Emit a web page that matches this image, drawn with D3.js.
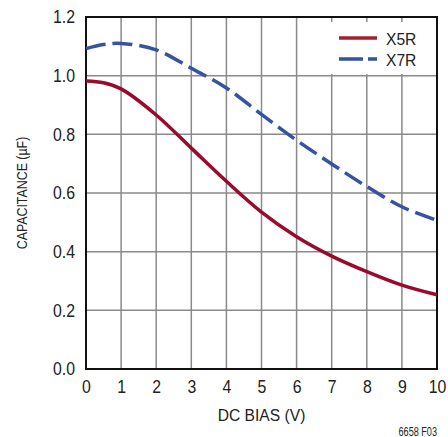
<!DOCTYPE html>
<html>
<head>
<meta charset="utf-8">
<script src="https://cdn.jsdelivr.net/npm/d3@7"></script>
<style>
  body { margin: 0; background: #fff; }
  svg text { font-family: "Liberation Sans", Arial, sans-serif; fill: #222; }
</style>
</head>
<body>
<svg id="chart" width="448" height="437"></svg>
<script>
// DC bias (V)
var bias = [0, 0.5, 1, 2, 3, 4, 5, 6, 7, 8, 9, 10];
// capacitance (uF)
var x5r = [0.982, 0.976, 0.955, 0.866, 0.753, 0.64, 0.535, 0.451, 0.385, 0.332, 0.286, 0.253];
var x7r = [1.092, 1.106, 1.11, 1.088, 1.025, 0.958, 0.868, 0.78, 0.699, 0.622, 0.553, 0.507];
var xTicks = [0, 1, 2, 3, 4, 5, 6, 7, 8, 9, 10];
var yTicks = [0, 0.2, 0.4, 0.6, 0.8, 1.0, 1.2];
var seriesNames = ['X5R', 'X7R'];

(function() {
  var mLeft = 86, mTop = 17, mRight = 437, mBottom = 369;
  var red = '#9a0a2c', blue = '#3552a3';

  var svg = d3.select('#chart');

  var x = d3.scaleLinear().domain([0, 10]).range([mLeft, mRight]);
  var y = d3.scaleLinear().domain([0, 1.2]).range([mBottom, mTop]);

  //squeeze text horizontally to fake a narrow face
  function narrow(sel, sx) {
    sel.each(function() {
      var t = d3.select(this);
      var tx = +t.attr('x') || 0, ty = +t.attr('y') || 0;
      var prev = t.attr('transform') || '';
      t.attr('transform', prev + ' translate(' + tx + ',' + ty + ') scale(' + sx + ',1)')
        .attr('x', 0).attr('y', 0);
    });
  }

  //grid
  svg.append('g')
    .selectAll('line')
    .data(xTicks.slice(1, -1))
    .enter()
    .append('line')
    .attr('x1', d => x(d)).attr('x2', d => x(d))
    .attr('y1', mTop).attr('y2', mBottom)
    .attr('stroke', '#8a8a8a').attr('stroke-width', 1.5);

  svg.append('g')
    .selectAll('line')
    .data(yTicks.slice(1, -1))
    .enter()
    .append('line')
    .attr('x1', mLeft).attr('x2', mRight)
    .attr('y1', d => y(d)).attr('y2', d => y(d))
    .attr('stroke', '#8a8a8a').attr('stroke-width', 1.5);

  //legend box hides grid
  svg.append('rect')
    .attr('x', 326).attr('y', 22).attr('width', mRight - 326).attr('height', 52)
    .attr('fill', '#fff');

  //frame
  svg.append('rect')
    .attr('x', mLeft).attr('y', mTop)
    .attr('width', mRight - mLeft).attr('height', mBottom - mTop)
    .attr('fill', 'none').attr('stroke', '#111').attr('stroke-width', 2);

  //curves
  var line = d3.line().curve(d3.curveCatmullRom)
    .x((d, i) => x(bias[i]))
    .y(d => y(d));

  svg.append('path').datum(x7r)
    .attr('d', line)
    .attr('fill', 'none').attr('stroke', blue).attr('stroke-width', 3.5)
    .attr('stroke-dasharray', '20,7');

  svg.append('path').datum(x5r)
    .attr('d', line)
    .attr('fill', 'none').attr('stroke', red).attr('stroke-width', 3.5);

  //axis labels
  var xAxis = d3.axisBottom(x).tickValues(xTicks).tickSize(0).tickPadding(11).tickFormat(d3.format('d'));
  svg.append('g').attr('transform', 'translate(0,' + mBottom + ')')
    .call(xAxis)
    .call(g => g.select('.domain').remove())
    .selectAll('text').attr('font-size', 18).style('font-family', null)
    .call(narrow, 0.88);

  var yAxis = d3.axisLeft(y).tickValues(yTicks).tickSize(0).tickPadding(11).tickFormat(d3.format('.1f'));
  svg.append('g').attr('transform', 'translate(' + mLeft + ',0)')
    .call(yAxis)
    .call(g => g.select('.domain').remove())
    .selectAll('text').attr('font-size', 18).style('font-family', null)
    .call(narrow, 0.88);

  svg.append('text')
    .attr('x', (mLeft + mRight) / 2).attr('y', 421)
    .attr('text-anchor', 'middle').attr('font-size', 17)
    .text('DC BIAS (V)')
    .call(narrow, 0.92);

  svg.append('text')
    .attr('transform', 'translate(27,' + (mTop + mBottom) / 2 + ') rotate(-90)')
    .attr('text-anchor', 'middle').attr('font-size', 15.5)
    .text('CAPACITANCE (µF)')
    .call(narrow, 0.8);

  svg.append('text')
    .attr('x', 437).attr('y', 436)
    .attr('text-anchor', 'end').attr('font-size', 12)
    .text('6658 F03')
    .call(narrow, 0.76);

  //legend
  var legend = svg.append('g');
  legend.selectAll('line')
    .data(seriesNames)
    .enter()
    .append('line')
    .attr('x1', 339).attr('x2', 377)
    .attr('y1', (d, i) => 38 + i * 21).attr('y2', (d, i) => 38 + i * 21)
    .attr('stroke', (d, i) => i ? blue : '#a3202e')
    .attr('stroke-width', 3.5)
    .attr('stroke-dasharray', (d, i) => i ? '24,5' : null);

  legend.selectAll('text')
    .data(seriesNames)
    .enter()
    .append('text')
    .attr('x', 386).attr('y', (d, i) => 45 + i * 21)
    .attr('font-size', 17)
    .text(d => d)
    .call(narrow, 0.92);
})();
</script>
</body>
</html>
